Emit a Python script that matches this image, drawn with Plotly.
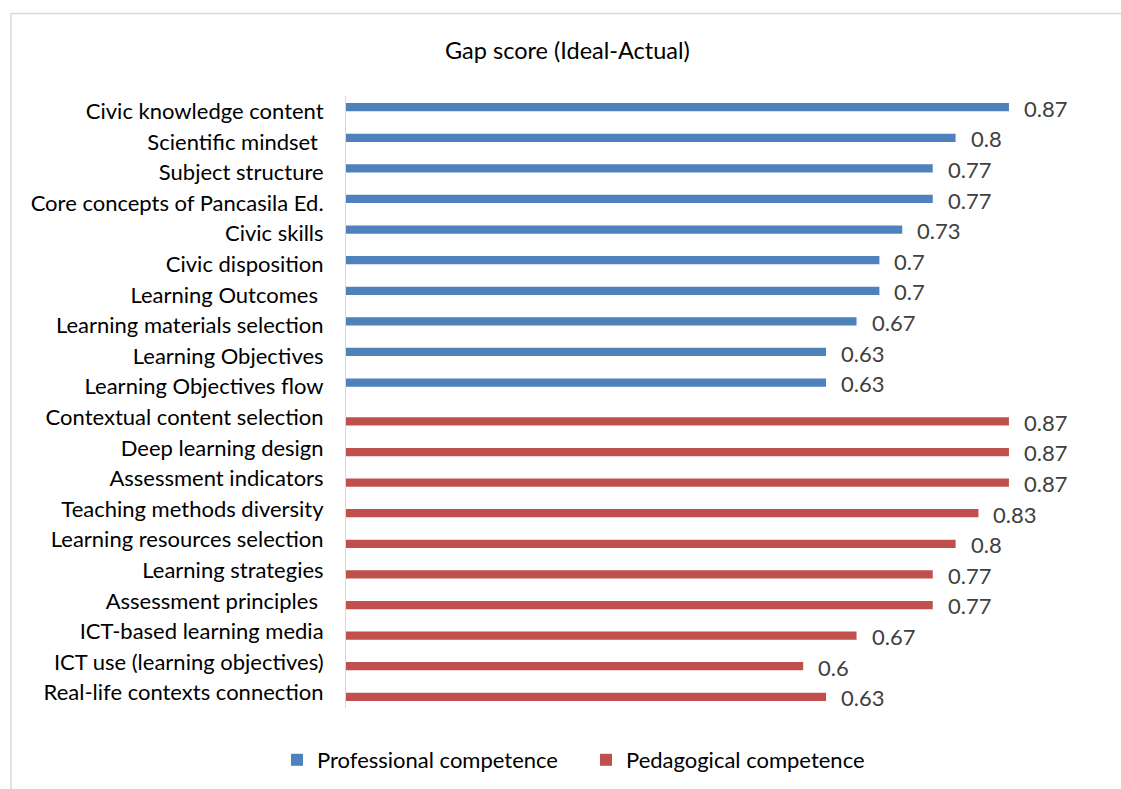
import plotly.graph_objects as go

# Competence items (top to bottom) and their gap scores
professional_items = [
    "Civic knowledge content",
    "Scientific mindset ",
    "Subject structure",
    "Core concepts of Pancasila Ed.",
    "Civic skills",
    "Civic disposition",
    "Learning Outcomes ",
    "Learning materials selection",
    "Learning Objectives",
    "Learning Objectives flow",
]
professional_scores = [0.87, 0.8, 0.77, 0.77, 0.73, 0.7, 0.7, 0.67, 0.63, 0.63]

pedagogical_items = [
    "Contextual content selection",
    "Deep learning design",
    "Assessment indicators",
    "Teaching methods diversity",
    "Learning resources selection",
    "Learning strategies",
    "Assessment principles ",
    "ICT-based learning media",
    "ICT use (learning objectives)",
    "Real-life contexts connection",
]
pedagogical_scores = [0.87, 0.87, 0.87, 0.83, 0.8, 0.77, 0.77, 0.67, 0.6, 0.63]

series_names = ["Professional competence", "Pedagogical competence"]
series_colors = ["#4F81BD", "#C0504D"]

W, H = 1121, 789
M_L, M_R, M_T, M_B = 346, 13, 96, 81
FONT = "Lato"
BAR_W = 0.27  # thickness of one bar slot, in category units

categories = professional_items + pedagogical_items

fig = go.Figure()
# Clustered layout: professional bars sit in the upper slot, pedagogical in the lower
fig.add_trace(go.Bar(
    y=professional_items, x=professional_scores, orientation="h",
    name=series_names[0], marker=dict(color=series_colors[0], line_width=0),
    width=BAR_W, offset=-BAR_W,
))
fig.add_trace(go.Bar(
    y=pedagogical_items, x=pedagogical_scores, orientation="h",
    name=series_names[1], marker=dict(color=series_colors[1], line_width=0),
    width=BAR_W, offset=0,
))

# Value labels placed just past the end of each bar
annotations = []
for items, scores, yshift in ((professional_items, professional_scores, 3),
                              (pedagogical_items, pedagogical_scores, -5)):
    for cat, val in zip(items, scores):
        annotations.append(dict(
            x=val, y=cat, xref="x", yref="y", text=f"{val:g}",
            showarrow=False, xanchor="left", yanchor="middle",
            xshift=13, yshift=yshift,
            font=dict(family=FONT, size=22, color="#404040"),
        ))

plot_w = W - M_L - M_R
plot_h = H - M_T - M_B


def px_x(p):
    return (p - M_L) / plot_w


def px_y(p):
    return (H - M_B - p) / plot_h


annotations.append(dict(
    text="Gap score (Ideal-Actual)", xref="paper", yref="paper",
    x=px_x(567), y=px_y(50),
    showarrow=False, xanchor="center", yanchor="middle",
    font=dict(family=FONT, size=23.5, color="#000000"),
))

fig.update_layout(
    width=W, height=H,
    margin=dict(l=M_L, r=M_R, t=M_T, b=M_B),
    paper_bgcolor="white", plot_bgcolor="white",
    barmode="overlay",
    font=dict(family=FONT, size=22, color="#000000"),
    xaxis=dict(range=[0, 1.0], visible=False, fixedrange=True),
    yaxis=dict(
        categoryorder="array", categoryarray=categories,
        autorange="reversed", showgrid=False, zeroline=False,
        showline=True, linecolor="#d9d9d9", linewidth=1,
        ticks="", ticklabelstandoff=17,
        tickfont=dict(family=FONT, size=22, color="#000000"),
    ),
    legend=dict(
        orientation="h", xref="container", yref="container",
        x=277 / W, xanchor="left", y=1 - 760 / H, yanchor="middle",
        font=dict(family=FONT, size=22, color="#000000"),
        itemwidth=30, tracegroupgap=0, entrywidth=264,
    ),
    annotations=annotations,
    shapes=[dict(
        type="rect", xref="paper", yref="paper",
        x0=px_x(11), x1=px_x(W + 10), y0=px_y(H + 10), y1=px_y(13.5),
        line=dict(color="#d9d9d9", width=1.5), fillcolor="rgba(0,0,0,0)",
        layer="below",
    )],
)

fig.write_html("out.html")
